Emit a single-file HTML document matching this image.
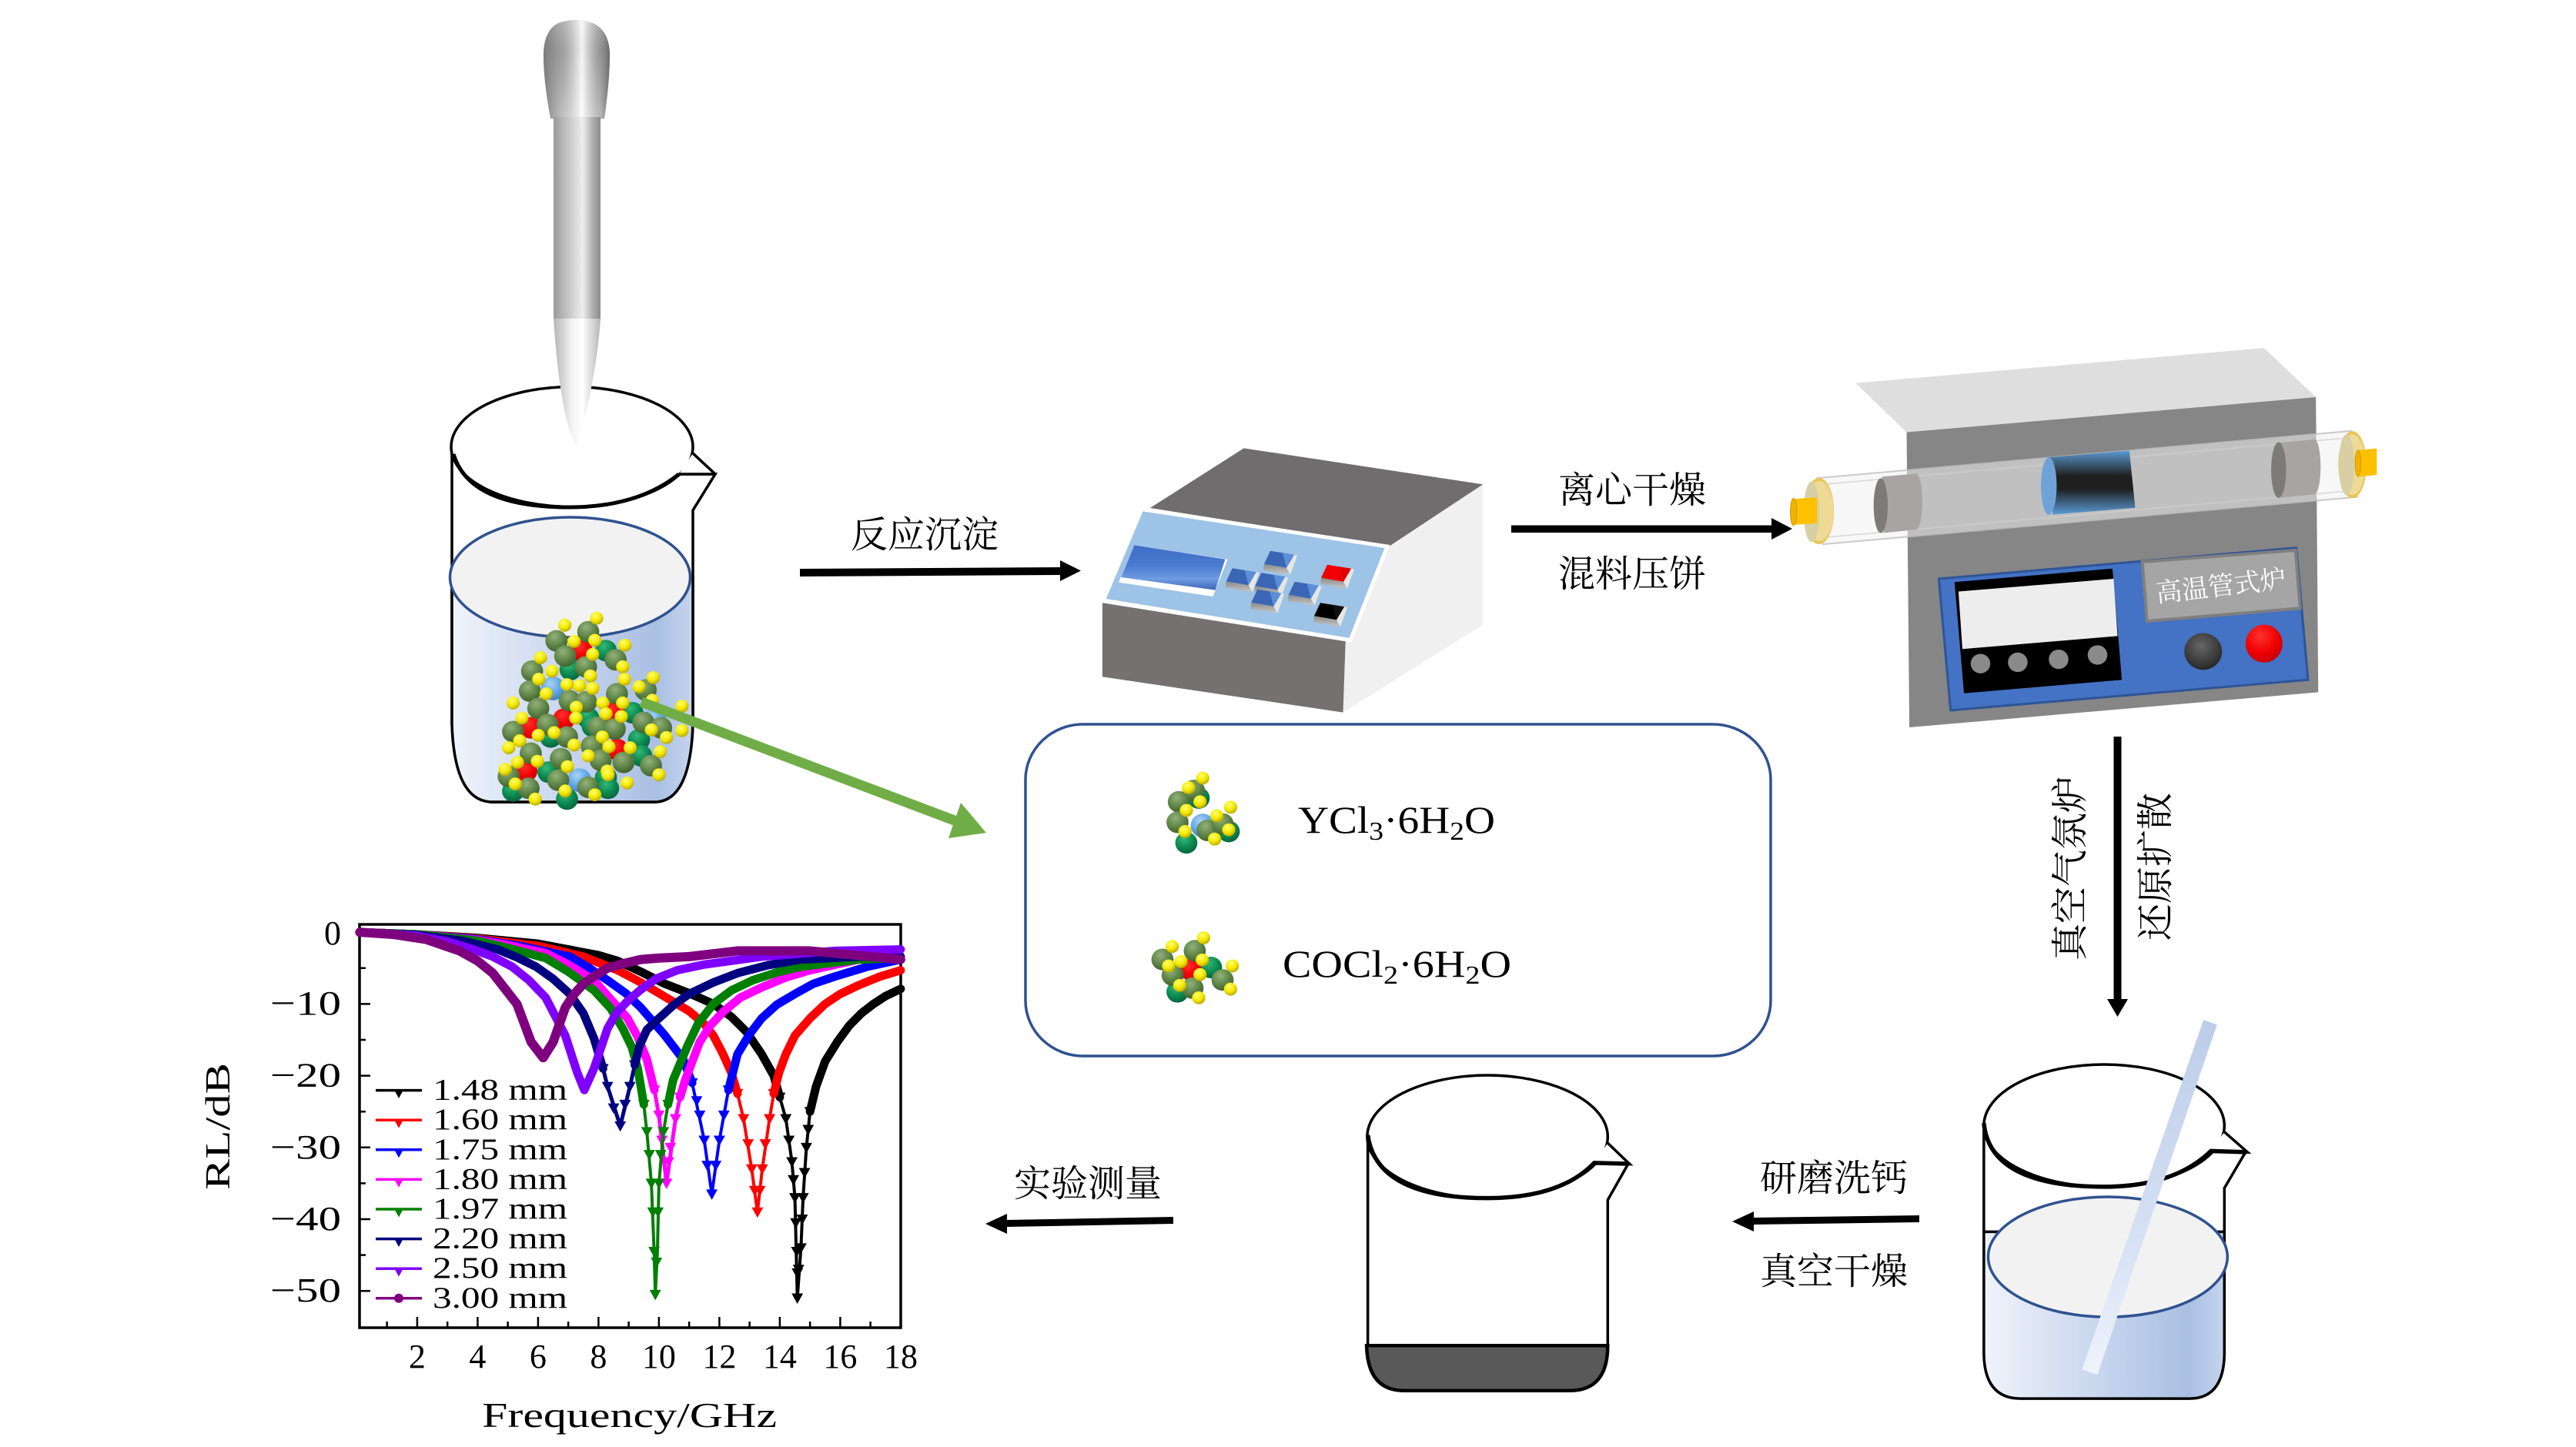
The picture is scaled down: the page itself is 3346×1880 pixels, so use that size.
<!DOCTYPE html>
<html lang="zh"><head><meta charset="utf-8"><title>Process diagram</title>
<style>
html,body{margin:0;padding:0;background:#fff}
svg{display:block;position:absolute;left:0;top:0}
.ns{vector-effect:non-scaling-stroke}
.cj{font-family:"Liberation Serif","Noto Serif CJK SC",serif;font-size:48px;fill:#000}
.lm{font-family:"Liberation Serif",serif;fill:#000}
.c{fill:none;stroke-linejoin:round;stroke-linecap:round;vector-effect:non-scaling-stroke}
.t{fill:none;stroke:none}
</style></head><body>
<svg width="3346" height="1880" viewBox="0 0 3346 1880" xmlns="http://www.w3.org/2000/svg">
<defs>
<radialGradient id="go" cx=".4" cy=".3" r=".75"><stop offset="0" stop-color="#93b17a"/><stop offset=".55" stop-color="#5f8548"/><stop offset="1" stop-color="#3d5e2c"/></radialGradient>
<radialGradient id="gy" cx=".4" cy=".3" r=".75"><stop offset="0" stop-color="#ffff70"/><stop offset=".55" stop-color="#f4e800"/><stop offset="1" stop-color="#b0a000"/></radialGradient>
<radialGradient id="gd" cx=".4" cy=".3" r=".75"><stop offset="0" stop-color="#34b878"/><stop offset=".55" stop-color="#0b8a50"/><stop offset="1" stop-color="#05603a"/></radialGradient>
<radialGradient id="gr" cx=".4" cy=".3" r=".75"><stop offset="0" stop-color="#ff3030"/><stop offset=".6" stop-color="#f00000"/><stop offset="1" stop-color="#c00000"/></radialGradient>
<radialGradient id="gb" cx=".4" cy=".3" r=".75"><stop offset="0" stop-color="#a8d4f8"/><stop offset=".6" stop-color="#5ba3e6"/><stop offset="1" stop-color="#3a7bc0"/></radialGradient>
<radialGradient id="gk" cx=".45" cy=".35" r=".7"><stop offset="0" stop-color="#666"/><stop offset=".7" stop-color="#383838"/><stop offset="1" stop-color="#222"/></radialGradient>
<ellipse id="o" rx="25" ry="20" fill="url(#go)"/>
<ellipse id="y" rx="15" ry="12" fill="url(#gy)"/>
<ellipse id="d" rx="25" ry="20" fill="url(#gd)"/>
<ellipse id="r" rx="25" ry="20" fill="url(#gr)"/>
<ellipse id="b" rx="27" ry="22" fill="url(#gb)"/>
<linearGradient id="water"><stop offset="0" stop-color="#f0f3fb"/><stop offset=".85" stop-color="#a9bfe3"/><stop offset="1" stop-color="#c5d4ee"/></linearGradient>
<linearGradient id="shaft"><stop offset="0" stop-color="#9a9a9a"/><stop offset=".25" stop-color="#bdbdbd"/><stop offset=".62" stop-color="#eeeeee"/><stop offset=".85" stop-color="#aaaaaa"/><stop offset="1" stop-color="#8c8c8c"/></linearGradient>
<linearGradient id="tip"><stop offset="0" stop-color="#b5b5b5"/><stop offset=".4" stop-color="#f4f4f4"/><stop offset=".62" stop-color="#ffffff"/><stop offset="1" stop-color="#b5b5b5"/></linearGradient>
<linearGradient id="head" x1="0" x2="0" y1="0" y2="1"><stop offset="0" stop-color="#c4c4c4"/><stop offset=".3" stop-color="#8c8c8c"/><stop offset=".8" stop-color="#cccccc"/><stop offset="1" stop-color="#f0f0f0"/></linearGradient>
<linearGradient id="head2"><stop offset="0" stop-color="#777" stop-opacity=".9"/><stop offset=".3" stop-color="#aaa" stop-opacity=".6"/><stop offset=".58" stop-color="#fff" stop-opacity=".9"/><stop offset=".85" stop-color="#999" stop-opacity=".6"/><stop offset="1" stop-color="#666" stop-opacity=".9"/></linearGradient>
<linearGradient id="rod" x1="0" x2="0" y1="0" y2="1"><stop offset="0" stop-color="#bccde9"/><stop offset=".6" stop-color="#d5e0f3"/><stop offset="1" stop-color="#eff3fb"/></linearGradient>
<linearGradient id="sample" x1="0" x2="0" y1="0" y2="1"><stop offset="0" stop-color="#5b9bd5"/><stop offset=".4" stop-color="#1f1f1f"/><stop offset=".6" stop-color="#1f1f1f"/><stop offset="1" stop-color="#5b9bd5"/></linearGradient>
<linearGradient id="disp" x1="0" x2="0" y1="0" y2="1"><stop offset="0" stop-color="#3f6dc6"/><stop offset=".45" stop-color="#4a7ad0"/><stop offset=".75" stop-color="#6f9be0"/><stop offset="1" stop-color="#3a66b6"/></linearGradient>
<linearGradient id="bev" x1="0" x2="0" y1="0" y2="1"><stop offset="0" stop-color="#8a8a8a"/><stop offset="1" stop-color="#c8c8c8"/></linearGradient>
<g id="bshape"><path d="M-8 17 L21 22 L25 31 L-9 25Z" fill="url(#bev)"/><path d="M31 5 L35 6 L26 31 L21 22Z" fill="#e6e6e6"/></g>
<g id="btnb"><use href="#bshape"/><path d="M0 0 L31 5 L21 22 L-8 17Z" fill="#3a66b5"/><path d="M16 2.5 L31 5 L21 22Z" fill="#5b8fd8"/></g>
<g id="btnr"><use href="#bshape"/><path d="M0 0 L31 5 L21 22 L-8 17Z" fill="#f00000"/><path d="M16 2.5 L31 5 L21 22Z" fill="#e00000"/></g>
<g id="btnk"><use href="#bshape"/><path d="M0 0 L31 5 L21 22 L-8 17Z" fill="#000"/><path d="M16 2.5 L31 5 L21 22Z" fill="#111"/></g>
<marker id="mk" viewBox="0 0 10 10" refX="5" refY="5" markerUnits="userSpaceOnUse" markerWidth=".38" markerHeight="1.6" preserveAspectRatio="none"><path d="M0 1H10L5 10Z" fill="#000"/></marker>
<marker id="mr" viewBox="0 0 10 10" refX="5" refY="5" markerUnits="userSpaceOnUse" markerWidth=".38" markerHeight="1.6" preserveAspectRatio="none"><path d="M0 1H10L5 10Z" fill="#f00"/></marker>
<marker id="mb" viewBox="0 0 10 10" refX="5" refY="5" markerUnits="userSpaceOnUse" markerWidth=".38" markerHeight="1.6" preserveAspectRatio="none"><path d="M0 1H10L5 10Z" fill="#00f"/></marker>
<marker id="mm" viewBox="0 0 10 10" refX="5" refY="5" markerUnits="userSpaceOnUse" markerWidth=".38" markerHeight="1.6" preserveAspectRatio="none"><path d="M0 1H10L5 10Z" fill="#ff00ff"/></marker>
<marker id="mg" viewBox="0 0 10 10" refX="5" refY="5" markerUnits="userSpaceOnUse" markerWidth=".38" markerHeight="1.6" preserveAspectRatio="none"><path d="M0 1H10L5 10Z" fill="#007f00"/></marker>
<marker id="mn" viewBox="0 0 10 10" refX="5" refY="5" markerUnits="userSpaceOnUse" markerWidth=".38" markerHeight="1.6" preserveAspectRatio="none"><path d="M0 1H10L5 10Z" fill="#000080"/></marker>
</defs>
<rect width="3346" height="1880" fill="#fff"/>

<!-- Beaker 1 -->
<path d="M587 583 V940 Q590 1042 640 1042 H850 Q897 1042 900 940 V663 L929 616 L882 616" fill="#fff" stroke="#000" stroke-width="3.5"/>
<path d="M900 589 L929 616" stroke="#000" stroke-width="3.5" fill="none"/>
<ellipse cx="743" cy="580.5" rx="157" ry="78" fill="#fff" stroke="#000" stroke-width="3.5"/>
<path d="M900 589 L929 616 L882 616" fill="#fff" stroke="#000" stroke-width="3.5" stroke-linejoin="round"/>
<path d="M589 590 Q610 660 743 659 Q830 658 882 616" fill="none" stroke="#000" stroke-width="5"/>
<path d="M587 750 V940 Q590 1040 640 1040 H850 Q897 1040 899 940 V750Z" fill="url(#water)"/>
<path d="M587 750 V940 Q590 1042 640 1042 H850 Q897 1042 900 940 V750" fill="none" stroke="#000" stroke-width="3.5"/>
<ellipse cx="740.5" cy="750" rx="156" ry="78" fill="#f2f2f2" stroke="#2f528f" stroke-width="3.5"/>

<!-- Particle cluster (zoom coords) -->
<g transform="translate(500,0) scale(.574,.7015)">
<use href="#d" x="500" y="1205"/><use href="#d" x="420" y="1240"/><use href="#d" x="560" y="1320"/><use href="#d" x="460" y="1330"/><use href="#d" x="575" y="1370"/><use href="#d" x="375" y="1365"/><use href="#d" x="580" y="1400"/><use href="#d" x="370" y="1430"/><use href="#d" x="500" y="1440"/><use href="#d" x="290" y="1465"/><use href="#d" x="412" y="1480"/><use href="#d" x="505" y="1460"/><use href="#d" x="470" y="1345"/>
<use href="#r" x="445" y="1205"/><use href="#r" x="330" y="1348"/><use href="#r" x="405" y="1332"/><use href="#r" x="518" y="1320"/><use href="#r" x="525" y="1388"/><use href="#r" x="320" y="1428"/>
<use href="#b" x="380" y="1275"/><use href="#b" x="440" y="1445"/><use href="#b" x="610" y="1335"/>
<use href="#o" x="460" y="1170"/><use href="#o" x="388" y="1187"/><use href="#o" x="408" y="1215"/><use href="#o" x="333" y="1243"/><use href="#o" x="455" y="1235"/><use href="#o" x="522" y="1222"/><use href="#o" x="328" y="1280"/><use href="#o" x="525" y="1285"/><use href="#o" x="590" y="1278"/><use href="#o" x="347" y="1312"/><use href="#o" x="418" y="1298"/><use href="#o" x="455" y="1300"/><use href="#o" x="368" y="1342"/><use href="#o" x="290" y="1355"/><use href="#o" x="412" y="1365"/><use href="#o" x="483" y="1347"/><use href="#o" x="520" y="1350"/><use href="#o" x="585" y="1338"/><use href="#o" x="625" y="1348"/><use href="#o" x="330" y="1395"/><use href="#o" x="468" y="1382"/><use href="#o" x="398" y="1405"/><use href="#o" x="488" y="1408"/><use href="#o" x="540" y="1412"/><use href="#o" x="602" y="1418"/><use href="#o" x="280" y="1438"/><use href="#o" x="392" y="1445"/><use href="#o" x="460" y="1458"/><use href="#o" x="325" y="1460"/>
<use href="#y" x="407" y="1158"/><use href="#y" x="479" y="1145"/><use href="#y" x="428" y="1188"/><use href="#y" x="475" y="1186"/><use href="#y" x="543" y="1195"/><use href="#y" x="352" y="1218"/><use href="#y" x="470" y="1212"/><use href="#y" x="538" y="1235"/><use href="#y" x="378" y="1243"/><use href="#y" x="348" y="1258"/><use href="#y" x="465" y="1252"/><use href="#y" x="542" y="1258"/><use href="#y" x="607" y="1255"/><use href="#y" x="575" y="1272"/><use href="#y" x="440" y="1270"/><use href="#y" x="412" y="1268"/><use href="#y" x="470" y="1275"/><use href="#y" x="290" y="1302"/><use href="#y" x="365" y="1285"/><use href="#y" x="493" y="1302"/><use href="#y" x="433" y="1310"/><use href="#y" x="538" y="1302"/><use href="#y" x="605" y="1297"/><use href="#y" x="672" y="1308"/><use href="#y" x="310" y="1330"/><use href="#y" x="500" y="1322"/><use href="#y" x="535" y="1327"/><use href="#y" x="432" y="1330"/><use href="#y" x="383" y="1357"/><use href="#y" x="492" y="1365"/><use href="#y" x="603" y="1352"/><use href="#y" x="672" y="1353"/><use href="#y" x="305" y="1372"/><use href="#y" x="347" y="1362"/><use href="#y" x="637" y="1366"/><use href="#y" x="280" y="1385"/><use href="#y" x="428" y="1380"/><use href="#y" x="507" y="1383"/><use href="#y" x="555" y="1385"/><use href="#y" x="623" y="1392"/><use href="#y" x="345" y="1410"/><use href="#y" x="300" y="1412"/><use href="#y" x="413" y="1420"/><use href="#y" x="503" y="1428"/><use href="#y" x="620" y="1435"/><use href="#y" x="548" y="1450"/><use href="#y" x="272" y="1425"/><use href="#y" x="295" y="1452"/><use href="#y" x="408" y="1465"/><use href="#y" x="475" y="1472"/><use href="#y" x="340" y="1480"/><use href="#y" x="505" y="1435"/><use href="#y" x="460" y="1400"/>
<!-- panel molecules -->
<g transform="translate(1433.5,1326)">
<use href="#d" x="408" y="152"/><use href="#d" x="380" y="235"/><use href="#d" x="476" y="214"/><use href="#b" x="417" y="203"/>
<use href="#o" x="397" y="138"/><use href="#o" x="363" y="159"/><use href="#o" x="360" y="197"/><use href="#o" x="428" y="212"/><use href="#o" x="462" y="200"/>
<use href="#y" x="417" y="115"/><use href="#y" x="385" y="133"/><use href="#y" x="411" y="159"/><use href="#y" x="380" y="175"/><use href="#y" x="480" y="169"/><use href="#y" x="449" y="185"/><use href="#y" x="377" y="214"/><use href="#y" x="476" y="211"/><use href="#y" x="444" y="228"/>
<use href="#d" x="436" y="466"/><use href="#d" x="360" y="511"/><use href="#r" x="389" y="470"/>
<use href="#o" x="399" y="435"/><use href="#o" x="326" y="451"/><use href="#o" x="349" y="480"/><use href="#o" x="462" y="489"/><use href="#o" x="394" y="504"/>
<use href="#y" x="419" y="411"/><use href="#y" x="348" y="427"/><use href="#y" x="340" y="463"/><use href="#y" x="368" y="455"/><use href="#y" x="416" y="452"/><use href="#y" x="484" y="463"/><use href="#y" x="411" y="479"/><use href="#y" x="365" y="499"/><use href="#y" x="480" y="506"/><use href="#y" x="408" y="522"/>
</g>
</g>

<!-- Stirring rod -->
<path d="M715 154 Q706 105 706 72 Q706 40 725 30 Q748 22 770 30 Q792 40 792 72 Q792 105 785 154 Q750 158 715 154Z" fill="url(#head)"/>
<path d="M715 154 Q706 105 706 72 Q706 40 725 30 Q748 22 770 30 Q792 40 792 72 Q792 105 785 154 Q750 158 715 154Z" fill="url(#head2)"/>
<rect x="719" y="152" width="61" height="262" fill="url(#shaft)"/>
<path d="M719 414 H780 C776 480 757 560 748.5 581 C738 560 726 520 719 414Z" fill="url(#tip)"/>

<!-- Green arrow -->
<path d="M833 912 L1245 1068" stroke="#70ad47" stroke-width="13" fill="none"/>
<path d="M1281 1082 L1248 1043 L1232 1089Z" fill="#70ad47"/>

<!-- Arrows -->
<path d="M1039 739 L1377 737 V728 L1404 741.5 L1377 755 V747 L1039 749Z" fill="#000"/>
<path d="M1963 682.5 H2301 V673 L2328 687 L2301 701 V692 H1963Z" fill="#000"/>
<path d="M2745.5 957 H2755.5 V1298 H2764 L2750.5 1321 L2737 1298 H2745.5Z" fill="#000"/>
<path d="M2493 1579 L2278 1582 V1574 L2250 1587 L2278 1600 V1591 L2493 1588Z" fill="#000"/>
<path d="M1524 1581 L1308 1585 V1577 L1280 1590 L1308 1603 V1594 L1524 1590Z" fill="#000"/>

<!-- Press -->
<g transform="translate(1400,550) scale(.638,.3333)">
<path d="M338 97 L825 238 L635 478 L147 330Z" fill="#6f6d6d"/>
<path d="M825 238 V785 L540 1127 V850 L555 845 L635 478Z" fill="#f0f0f0"/>
<path d="M50 700 L545 850 L540 1127 L50 988Z" fill="#767171"/>
<path d="M130 335 L630 480 L555 845 L52 690Z" fill="#9dc3e6" stroke="#fff" stroke-width="5" class="ns"/>
<path d="M115 475 L305 530 L300 555 L275 675 L83 620Z" fill="#fff"/>
<path d="M115 475 L300 530 L280 650 L88 600Z" fill="url(#disp)"/>
</g>
<use href="#btnb" x="1650" y="715.7"/><use href="#btnb" x="1600.7" y="738.3"/><use href="#btnb" x="1638.3" y="744.3"/><use href="#btnb" x="1633.3" y="765.7"/><use href="#btnb" x="1681.7" y="755.7"/><use href="#btnr" x="1724" y="733.7"/><use href="#btnk" x="1715" y="783.3"/>

<!-- Furnace -->
<g transform="translate(2350,430) scale(.5102,.3508)">
<path d="M118 193 L1158 63 L1290 245 L248 375Z" fill="#dedede"/>
<path d="M248 375 L1290 245 L1296 1338 L255 1468Z" fill="#868686"/>
<path d="M330 918 L1240 803 L1270 1292 L360 1405Z" fill="#4472c4" stroke="#2f5597" stroke-width="3" class="ns"/>
<path d="M848 855 L1238 812 L1250 1027 L860 1075Z" fill="#a5a5a5" stroke="#7f7f7f" stroke-width="4" class="ns"/>
<path d="M370 930 L772 880 L796 1292 L394 1342Z" fill="#000"/>
<path d="M380 965 L775 918 L785 1130 L390 1178Z" fill="#ededed"/>
<ellipse cx="436" cy="1232" rx="25" ry="36" fill="#8a8a8a"/><ellipse cx="531" cy="1227" rx="25" ry="36" fill="#8a8a8a"/><ellipse cx="635" cy="1216" rx="25" ry="36" fill="#8a8a8a"/><ellipse cx="734" cy="1200" rx="25" ry="36" fill="#8a8a8a"/>
<ellipse cx="1003" cy="1187" rx="48" ry="68" fill="url(#gk)"/>
<ellipse cx="1158" cy="1158" rx="47" ry="70" fill="url(#gr)"/>
<!-- tube -->
<path d="M20 545 L1380 370 L1395 615 L35 790Z" fill="#f0f0f0" fill-opacity=".55" stroke="#bdbdbd" stroke-opacity=".8" stroke-width="2" class="ns"/>
<path d="M20 570 L1380 395 M35 765 L1395 590" stroke="#d0d0d0" stroke-opacity=".8" stroke-width="1.5" fill="none" class="ns"/>
<ellipse cx="272" cy="632" rx="16" ry="103" fill="#a8a4a4"/>
<path d="M185 540 L275 528 L275 735 L190 748Z" fill="#a8a4a4"/>
<ellipse cx="182" cy="647" rx="18" ry="101" fill="#7d7a7a"/>
<ellipse cx="1286" cy="503" rx="16" ry="102" fill="#a8a4a4"/>
<path d="M1195 414 L1285 402 L1288 605 L1200 618Z" fill="#a8a4a4"/>
<ellipse cx="1195" cy="515" rx="19" ry="103" fill="#7d7a7a"/>
<path d="M610 468 L815 443 L830 655 L620 680Z" fill="url(#sample)"/>
<ellipse cx="610" cy="574" rx="20" ry="106" fill="#6fa3d8"/>
<!-- right flange -->
<ellipse cx="1383" cy="495" rx="36" ry="124" fill="#e8c65a"/>
<ellipse cx="1382" cy="495" rx="34" ry="112" fill="#eeda94"/>
<ellipse cx="1368" cy="495" rx="20" ry="112" fill="#d8cfa4"/>
<path d="M1395 442 L1445 435 V533 L1398 540Z" fill="#ffc000"/>
<ellipse cx="1397" cy="490" rx="7" ry="48" fill="#f0b400" stroke="#c89500" stroke-width="1" class="ns"/>
<!-- left flange -->
<ellipse cx="25" cy="667" rx="38" ry="123" fill="#e8c65a"/>
<ellipse cx="26" cy="667" rx="36" ry="111" fill="#eeda94"/>
<ellipse cx="6" cy="670" rx="20" ry="112" fill="#d8cfa4"/>
<path d="M-39 622 L20 616 V712 L-39 718Z" fill="#ffc000"/>
<ellipse cx="-40" cy="670" rx="8" ry="50" fill="#f0b400" stroke="#c89500" stroke-width="1" class="ns"/>
</g>
<text class="cj" style="font-size:34px;fill:#fff" x="2885" y="773" text-anchor="middle" transform="rotate(-6.5 2885 762)">高温管式炉</text>

<!-- Panel -->
<rect x="1332" y="941" width="968" height="431" rx="75" ry="72" fill="none" stroke="#2f528f" stroke-width="3.5"/>
<text class="lm" font-size="50" x="1686" y="1082" textLength="256" lengthAdjust="spacingAndGlyphs">YCl<tspan font-size="34" dy="9">3</tspan><tspan dy="-9">·6H</tspan><tspan font-size="34" dy="9">2</tspan><tspan dy="-9">O</tspan></text>
<text class="lm" font-size="50" x="1666" y="1269" textLength="297" lengthAdjust="spacingAndGlyphs">COCl<tspan font-size="34" dy="9">2</tspan><tspan dy="-9">·6H</tspan><tspan font-size="34" dy="9">2</tspan><tspan dy="-9">O</tspan></text>

<!-- Beakers bottom -->
<g transform="translate(1740,1320) scale(.797,.344)">
<path d="M46 450 V1250 Q50 1415 105 1415 H375 Q435 1415 437 1250 V695 L470 560" fill="#fff" stroke="#000" stroke-width="3.5" class="ns"/>
<ellipse cx="241" cy="456" rx="196" ry="232" fill="#fff" stroke="#000" stroke-width="3.5" class="ns"/>
<path d="M437 480 L473 560 L415 555" fill="#fff" stroke="#000" stroke-width="3.5" class="ns"/>
<path d="M46 450 Q60 688 241 688 Q360 688 415 555 L470 558" fill="none" stroke="#000" stroke-width="5.5" class="ns"/>
<path d="M44 1245 H437 Q437 1415 375 1415 H105 Q46 1415 44 1245Z" fill="#595959" stroke="#000" stroke-width="4.5" class="ns"/>

<path d="M1050 405 V815 M1442 650 V815 L1442 650 L1475 520" fill="none" stroke="#000" stroke-width="3.5" class="ns"/>
<ellipse cx="1246" cy="414" rx="196" ry="231" fill="#fff" stroke="#000" stroke-width="3.5" class="ns"/>
<path d="M1442 438 L1480 515 L1420 510" fill="#fff" stroke="#000" stroke-width="3.5" class="ns"/>
<path d="M1050 405 Q1060 645 1246 645 Q1360 645 1420 510 L1478 514" fill="none" stroke="#000" stroke-width="5.5" class="ns"/>
<path d="M1050 815 H1442 V1270 Q1442 1445 1385 1445 H1110 Q1050 1445 1050 1270Z" fill="url(#water)" stroke="#000" stroke-width="3.5" class="ns"/>
<ellipse cx="1252" cy="910" rx="195" ry="227" fill="#f2f2f2" stroke="#2f528f" stroke-width="3.5" class="ns"/>
<path d="M1408 15 L1430 33 L1235 1355 L1210 1335Z" fill="url(#rod)"/>
</g>

<!-- Chinese labels -->
<text class="cj" x="1105" y="711">反应沉淀</text>
<text class="cj" x="2024" y="653">离心干燥</text>
<text class="cj" x="2024" y="762">混料压饼</text>
<text class="cj" x="2286" y="1547">研磨洗钙</text>
<text class="cj" x="2286" y="1668">真空干燥</text>
<text class="cj" x="1317" y="1554">实验测量</text>
<text class="cj" transform="translate(2705,1248) rotate(-90)">真空气氛炉</text>
<text class="cj" transform="translate(2816,1222) rotate(-90)">还原扩散</text>

<!-- Chart -->
<rect x="467" y="1201" width="703" height="524" fill="#fff" stroke="#000" stroke-width="3.5"/>
<path d="M541.9 1725v-14M620.4 1725v-14M698.9 1725v-14M777.4 1725v-14M855.9 1725v-14M934.4 1725v-14M1012.9 1725v-14M1091.4 1725v-14M502.65 1725v-8M581.15 1725v-8M659.65 1725v-8M738.15 1725v-8M816.65 1725v-8M895.15 1725v-8M973.65 1725v-8M1052.15 1725v-8M1130.65 1725v-8M467 1304.4h14M467 1397.6h14M467 1490.8h14M467 1584h14M467 1677.2h14M467 1257.8h8M467 1351h8M467 1444.2h8M467 1537.4h8M467 1630.6h8" stroke="#000" stroke-width="2.5" fill="none"/>

<g transform="translate(463.4,1211.2) scale(39.25,9.32)">
<!-- 1.48 black -->
<path class="c" stroke="#000" stroke-width="11" d="M.1 0L2 .3L4 .8L6 1.6L7 2.4L8 3.2L8.64 4L9.4 5.5L10.2 7.2L11 8.5L11.8 10L12.4 11.8L12.9 13.9L13.4 17L13.8 20L14 23M15 25L15.2 21.5L15.5 18L15.9 15.3L16.3 13L16.7 11.3L17.1 10L17.5 8.9L18 7.9"/>
<path class="c" stroke="#000" stroke-width="4" d="M14 23L14.2 26L14.4 32L14.5 37L14.58 51L14.7 44L14.77 37L14.88 30L15 25"/>
<polyline class="t" points="14,23 14.2,26 14.3,29 14.4,32 14.45,34.5 14.5,37 14.53,40.5 14.56,44.5 14.58,47.5 14.58,51 14.62,47 14.7,44 14.74,40 14.77,37 14.82,33.5 14.88,30 14.94,27.5 15,25" marker-start="url(#mk)" marker-mid="url(#mk)" marker-end="url(#mk)"/>
<!-- 1.60 red -->
<path class="c" stroke="#f00" stroke-width="11" d="M.1 0L2 .3L4 .9L6 1.9L7.5 3.4L8.64 5.3L9.4 7L10.2 9L11 11L11.5 12.8L11.8 14.4L12.1 16.8L12.4 19.6L12.6 22.5M13.8 22.5L13.97 19.6L14.2 17L14.5 14.4L15 12L15.5 10L16 8.6L16.6 7.4L17.3 6.2L18 5.3"/>
<path class="c" stroke="#f00" stroke-width="4" d="M12.6 22.5L12.8 26L13.07 33L13.26 39L13.42 33L13.66 26L13.8 22.5"/>
<polyline class="t" points="12.6,22.5 12.8,26 12.95,29.5 13.07,33 13.17,36 13.26,39 13.34,36 13.42,33 13.52,29.5 13.66,26 13.8,22.5" marker-start="url(#mr)" marker-mid="url(#mr)" marker-end="url(#mr)"/>
<!-- 1.75 blue -->
<path class="c" stroke="#00f" stroke-width="11" d="M.1 0L2 .3L4 1L5.5 2L7.05 3.4L7.7 5L8.3 6.7L8.9 8.5L9.4 10.5L10.2 14.4L10.8 17.7L11.1 21M12.3 22L12.6 17L13 14.2L13.4 12L13.9 10.1L14.5 8.6L15.1 7.2L15.8 6.2L16.9 4.8L18 3.8"/>
<path class="c" stroke="#00f" stroke-width="4" d="M11.1 21L11.5 29L11.75 36.5L12 29L12.3 22"/>
<polyline class="t" points="11.1,21 11.25,23.5 11.35,25.5 11.5,29 11.6,32.5 11.75,36.5 11.88,32.5 12,29 12.15,25.5 12.3,22" marker-start="url(#mb)" marker-mid="url(#mb)" marker-end="url(#mb)"/>
<!-- 1.80 magenta -->
<path class="c" stroke="#ff00ff" stroke-width="11" d="M.1 0L2 .3L4 1.1L5 1.8L6.25 2.9L7 4.5L7.85 6.7L8.5 9.8L8.96 12L9.3 14.6L9.6 17.7L9.85 22M10.7 23L10.87 20.6L11.35 15.3L11.7 13L12.15 11L12.7 9.1L13.4 7.7L14.2 6.3L15 5.3L16.6 3.8L18 3.4"/>
<path class="c" stroke="#ff00ff" stroke-width="5" d="M9.85 22L10 25.5L10.25 35L10.55 26L10.7 23"/>
<polyline class="t" points="9.85,22 10,25.5 10.1,29 10.18,32 10.25,35 10.32,32 10.38,30 10.55,26 10.7,23" marker-start="url(#mm)" marker-mid="url(#mm)" marker-end="url(#mm)"/>
<!-- 1.97 green -->
<path class="c" stroke="#007f00" stroke-width="11" d="M.1 0L2 .3L4 1.2L5 2.2L6.25 3.6L7 5.5L7.85 8.1L8.4 10.6L8.8 13.4L9.1 16L9.3 19L9.5 24M10.3 24L10.47 20.6L10.95 15.8L11.3 12.7L11.8 10L12.4 8.1L13.1 6.7L13.9 5.6L14.7 4.8L16.6 3.8L18 3.6"/>
<path class="c" stroke="#007f00" stroke-width="4" d="M9.5 24L9.6 27.8L9.75 35L9.84 44.5L9.88 50.5L9.95 44.5L10 35L10.15 27.8L10.3 24"/>
<polyline class="t" points="9.5,24 9.6,27.8 9.68,31 9.75,35 9.8,39 9.84,44.5 9.88,50.5 9.92,46 9.97,39 10,35 10.06,31 10.15,27.8 10.3,24" marker-start="url(#mg)" marker-mid="url(#mg)" marker-end="url(#mg)"/>
<!-- 2.20 navy -->
<path class="c" stroke="#000080" stroke-width="11" d="M.1 0L2 .4L3.5 1.2L4.66 2.4L5.3 3.5L5.93 4.8L6.5 6.5L7.05 8.6L7.5 11.3L7.85 14.8L8.15 19M9.2 18.5L9.36 15.8L9.6 13.6L10 12L10.5 10.1L11 8.6L11.8 7L12.6 5.7L13.6 4.6L14.7 3.8L16.6 3.4L18 3.4"/>
<path class="c" stroke="#000080" stroke-width="5" d="M8.15 19L8.3 21.5L8.72 27L9.04 21.5L9.2 18.5"/>
<polyline class="t" points="8.15,19 8.3,21.5 8.5,24.5 8.72,27 8.88,24 9.04,21.5 9.2,18.5" marker-start="url(#mn)" marker-mid="url(#mn)" marker-end="url(#mn)"/>
<!-- 2.50 purple -->
<path class="c" stroke="#7f00ff" stroke-width="11" d="M.1 0L2 .5L3 1.3L3.86 2.4L4.5 3.4L5.14 4.8L5.7 6.7L6.25 9.1L6.9 14.4L7.3 19.6L7.53 22L7.85 19L8.3 13.4L8.6 11.2L8.96 9.6L9.4 8L9.9 6.5L10.6 5.3L11.5 4.5L13.4 3.4L15.8 2.6L18 2.4"/>
<!-- 3.00 dark purple -->
<path class="c" stroke="#7f007f" stroke-width="12" d="M.1 0L1.2 .3L2.3 1L3.4 2.6L4 4L4.5 5.7L5.3 10L5.77 15.3L6.17 17.5L6.5 15.3L6.9 10.5L7.2 8.6L7.5 7.2L7.9 6L8.3 5L8.8 4.4L9.4 3.8L10 3.6L11 3.4L12.6 2.6L15 2.6L18 3.8"/>
</g>

<!-- Legend -->
<g stroke-width="3.5">
<path d="M488 1416.6H548" stroke="#000"/><path d="M488 1455.2H548" stroke="#f00"/><path d="M488 1493.8H548" stroke="#00f"/><path d="M488 1532.4H548" stroke="#ff00ff"/><path d="M488 1571H548" stroke="#007f00"/><path d="M488 1609.6H548" stroke="#000080"/><path d="M488 1648.2H548" stroke="#7f00ff"/><path d="M488 1686.8H548" stroke="#7f007f"/>
</g>
<path d="M512 1416h12l-6 11z" fill="#000"/><path d="M512 1454.6h12l-6 11z" fill="#f00"/><path d="M512 1493.2h12l-6 11z" fill="#00f"/><path d="M512 1531.8h12l-6 11z" fill="#ff00ff"/><path d="M512 1570.4h12l-6 11z" fill="#007f00"/><path d="M512 1609h12l-6 11z" fill="#000080"/><path d="M512 1647.6h12l-6 11z" fill="#7f00ff"/><circle cx="518" cy="1686.8" r="6" fill="#7f007f"/>
<g class="lm" font-size="39">
<text x="562" y="1428.6" textLength="175" lengthAdjust="spacingAndGlyphs">1.48 mm</text>
<text x="562" y="1467.2" textLength="175" lengthAdjust="spacingAndGlyphs">1.60 mm</text>
<text x="562" y="1505.8" textLength="175" lengthAdjust="spacingAndGlyphs">1.75 mm</text>
<text x="562" y="1544.4" textLength="175" lengthAdjust="spacingAndGlyphs">1.80 mm</text>
<text x="562" y="1583" textLength="175" lengthAdjust="spacingAndGlyphs">1.97 mm</text>
<text x="562" y="1621.6" textLength="175" lengthAdjust="spacingAndGlyphs">2.20 mm</text>
<text x="562" y="1660.2" textLength="175" lengthAdjust="spacingAndGlyphs">2.50 mm</text>
<text x="562" y="1698.8" textLength="175" lengthAdjust="spacingAndGlyphs">3.00 mm</text>
</g>
<g class="lm" font-size="44">
<text x="421" y="1227">0</text>
<text x="351" y="1318" textLength="92" lengthAdjust="spacingAndGlyphs">−10</text>
<text x="351" y="1411.6" textLength="92" lengthAdjust="spacingAndGlyphs">−20</text>
<text x="351" y="1504.8" textLength="92" lengthAdjust="spacingAndGlyphs">−30</text>
<text x="351" y="1598" textLength="92" lengthAdjust="spacingAndGlyphs">−40</text>
<text x="351" y="1691" textLength="92" lengthAdjust="spacingAndGlyphs">−50</text>
<g text-anchor="middle">
<text x="541.9" y="1777">2</text><text x="620.4" y="1777">4</text><text x="698.9" y="1777">6</text><text x="777.4" y="1777">8</text><text x="855.9" y="1777">10</text><text x="934.4" y="1777">12</text><text x="1012.9" y="1777">14</text><text x="1091.4" y="1777">16</text><text x="1170" y="1777">18</text>
</g>
<text x="626" y="1854" textLength="383" lengthAdjust="spacingAndGlyphs" font-size="46">Frequency/GHz</text>
<text transform="translate(298,1546) rotate(-90)" textLength="165" lengthAdjust="spacingAndGlyphs" font-size="46">RL/dB</text>
</g>
</svg>
</body></html>
